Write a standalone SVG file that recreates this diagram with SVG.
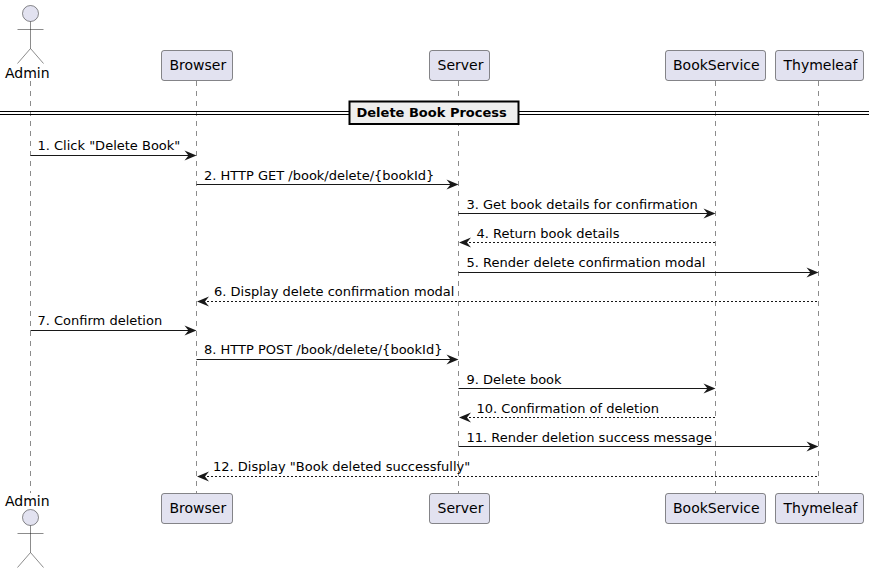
<svg xmlns="http://www.w3.org/2000/svg" width="874" height="573" viewBox="0 0 874 573">
<style>
text{font-family:"DejaVu Sans",sans-serif;fill:#000}
.n{font-size:14px}
.m{font-size:13px}
.b{fill:#E2E2F0;stroke:#181818;stroke-width:.5}
.a{fill:#E2E2F0;stroke:#181818;stroke-width:.5}
.ln{fill:none;stroke:#181818;stroke-width:.5}
.life{stroke:#181818;stroke-width:.5;stroke-dasharray:5 5}
.s{stroke:#181818;stroke-width:1;fill:none}
.d{stroke:#181818;stroke-width:1;stroke-dasharray:2 2;fill:none}
.h{fill:#181818}
.sep{stroke:#000;stroke-width:1}
</style>
<defs>
<path id="r" class="h" d="M-12 -5L0 0L-12 5L-8 0Z"/>
<path id="l" class="h" d="M12 -5L0 0L12 5L8 0Z"/>
<g id="man"><circle class="a" cx="0" cy="0" r="8"/><path class="ln" d="M0 8V35M-13 16H13M0 35L-13 50M0 35L13 50"/></g>
</defs>
<g id="lifelines">
<line class="life" x1="30.5" y1="81" x2="30.5" y2="493"/>
<line class="life" x1="196.5" y1="81" x2="196.5" y2="493"/>
<line class="life" x1="458.5" y1="81" x2="458.5" y2="493"/>
<line class="life" x1="715.5" y1="81" x2="715.5" y2="493"/>
<line class="life" x1="818.5" y1="81" x2="818.5" y2="493"/>
</g>
<g id="admin-top"><use href="#man" x="30.5" y="13.5"/><text class="n" x="5" y="78">Admin</text></g>
<g id="browser-top"><rect class="b" x="161.5" y="50.5" width="71" height="30" rx="2.5"/><text class="n" x="169.5" y="70">Browser</text></g>
<g id="server-top"><rect class="b" x="429.5" y="50.5" width="60" height="30" rx="2.5"/><text class="n" x="437.5" y="70">Server</text></g>
<g id="bookservice-top"><rect class="b" x="665.5" y="50.5" width="100" height="30" rx="2.5"/><text class="n" x="673" y="70">BookService</text></g>
<g id="thymeleaf-top"><rect class="b" x="775.5" y="50.5" width="88" height="30" rx="2.5"/><text class="n" x="783.5" y="70">Thymeleaf</text></g>
<g id="divider">
<line class="sep" x1="0" y1="111.5" x2="869" y2="111.5"/>
<line class="sep" x1="0" y1="114.5" x2="869" y2="114.5"/>
<rect x="349.5" y="101.5" width="169" height="22.5" fill="#EEEEEE" stroke="#000" stroke-width="2"/>
<text x="356.5" y="117" font-size="13" font-weight="bold">Delete Book Process</text>
</g>
<g id="connectors">
<line class="s" x1="30.5" y1="155.5" x2="190" y2="155.5"/><use href="#r" x="196.5" y="155.5"/>
<line class="s" x1="196.5" y1="184.5" x2="452" y2="184.5"/><use href="#r" x="458.5" y="184.5"/>
<line class="s" x1="458.5" y1="213.500" x2="709" y2="213.500"/><use href="#r" x="715.5" y="213.500"/>
<line class="d" x1="465" y1="242.500" x2="715.5" y2="242.500"/><use href="#l" x="459" y="242.500"/>
<line class="s" x1="458.5" y1="272.5" x2="812" y2="272.5"/><use href="#r" x="818.5" y="272.5"/>
<line class="d" x1="203" y1="301.5" x2="818.5" y2="301.5"/><use href="#l" x="197" y="301.5"/>
<line class="s" x1="30.5" y1="330.5" x2="190" y2="330.5"/><use href="#r" x="196.5" y="330.5"/>
<line class="s" x1="196.5" y1="359.5" x2="452" y2="359.5"/><use href="#r" x="458.5" y="359.5"/>
<line class="s" x1="458.5" y1="388.5" x2="709" y2="388.5"/><use href="#r" x="715.5" y="388.5"/>
<line class="d" x1="465" y1="417.500" x2="715.5" y2="417.500"/><use href="#l" x="459" y="417.500"/>
<line class="s" x1="458.5" y1="446.500" x2="812" y2="446.500"/><use href="#r" x="818.5" y="446.500"/>
<line class="d" x1="203" y1="476.5" x2="818.5" y2="476.5"/><use href="#l" x="197" y="476.5"/>
</g>
<g id="labels">
<text class="m" x="37.500" y="150">1. Click "Delete Book"</text>
<text class="m" x="204" y="180">2. HTTP GET /book/delete/{bookId}</text>
<text class="m" x="466.500" y="209">3. Get book details for confirmation</text>
<text class="m" x="476.500" y="238">4. Return book details</text>
<text class="m" x="466.500" y="267">5. Render delete confirmation modal</text>
<text class="m" x="214" y="296">6. Display delete confirmation modal</text>
<text class="m" x="37.500" y="325">7. Confirm deletion</text>
<text class="m" x="204" y="354">8. HTTP POST /book/delete/{bookId}</text>
<text class="m" x="466.500" y="384">9. Delete book</text>
<text class="m" x="476.500" y="413">10. Confirmation of deletion</text>
<text class="m" x="466.500" y="442">11. Render deletion success message</text>
<text class="m" x="213" y="471">12. Display "Book deleted successfully"</text>
</g>
<g id="admin-bottom"><text class="n" x="5" y="506">Admin</text><use href="#man" x="30.5" y="517.500"/></g>
<g id="browser-bottom"><rect class="b" x="161.500" y="493.500" width="71" height="30" rx="2.500"/><text class="n" x="169.500" y="513">Browser</text></g>
<g id="server-bottom"><rect class="b" x="429.500" y="493.500" width="60" height="30" rx="2.500"/><text class="n" x="437.500" y="513">Server</text></g>
<g id="bookservice-bottom"><rect class="b" x="665.500" y="493.500" width="100" height="30" rx="2.500"/><text class="n" x="673" y="513">BookService</text></g>
<g id="thymeleaf-bottom"><rect class="b" x="775.500" y="493.500" width="88" height="30" rx="2.500"/><text class="n" x="783.500" y="513">Thymeleaf</text></g>
</svg>
